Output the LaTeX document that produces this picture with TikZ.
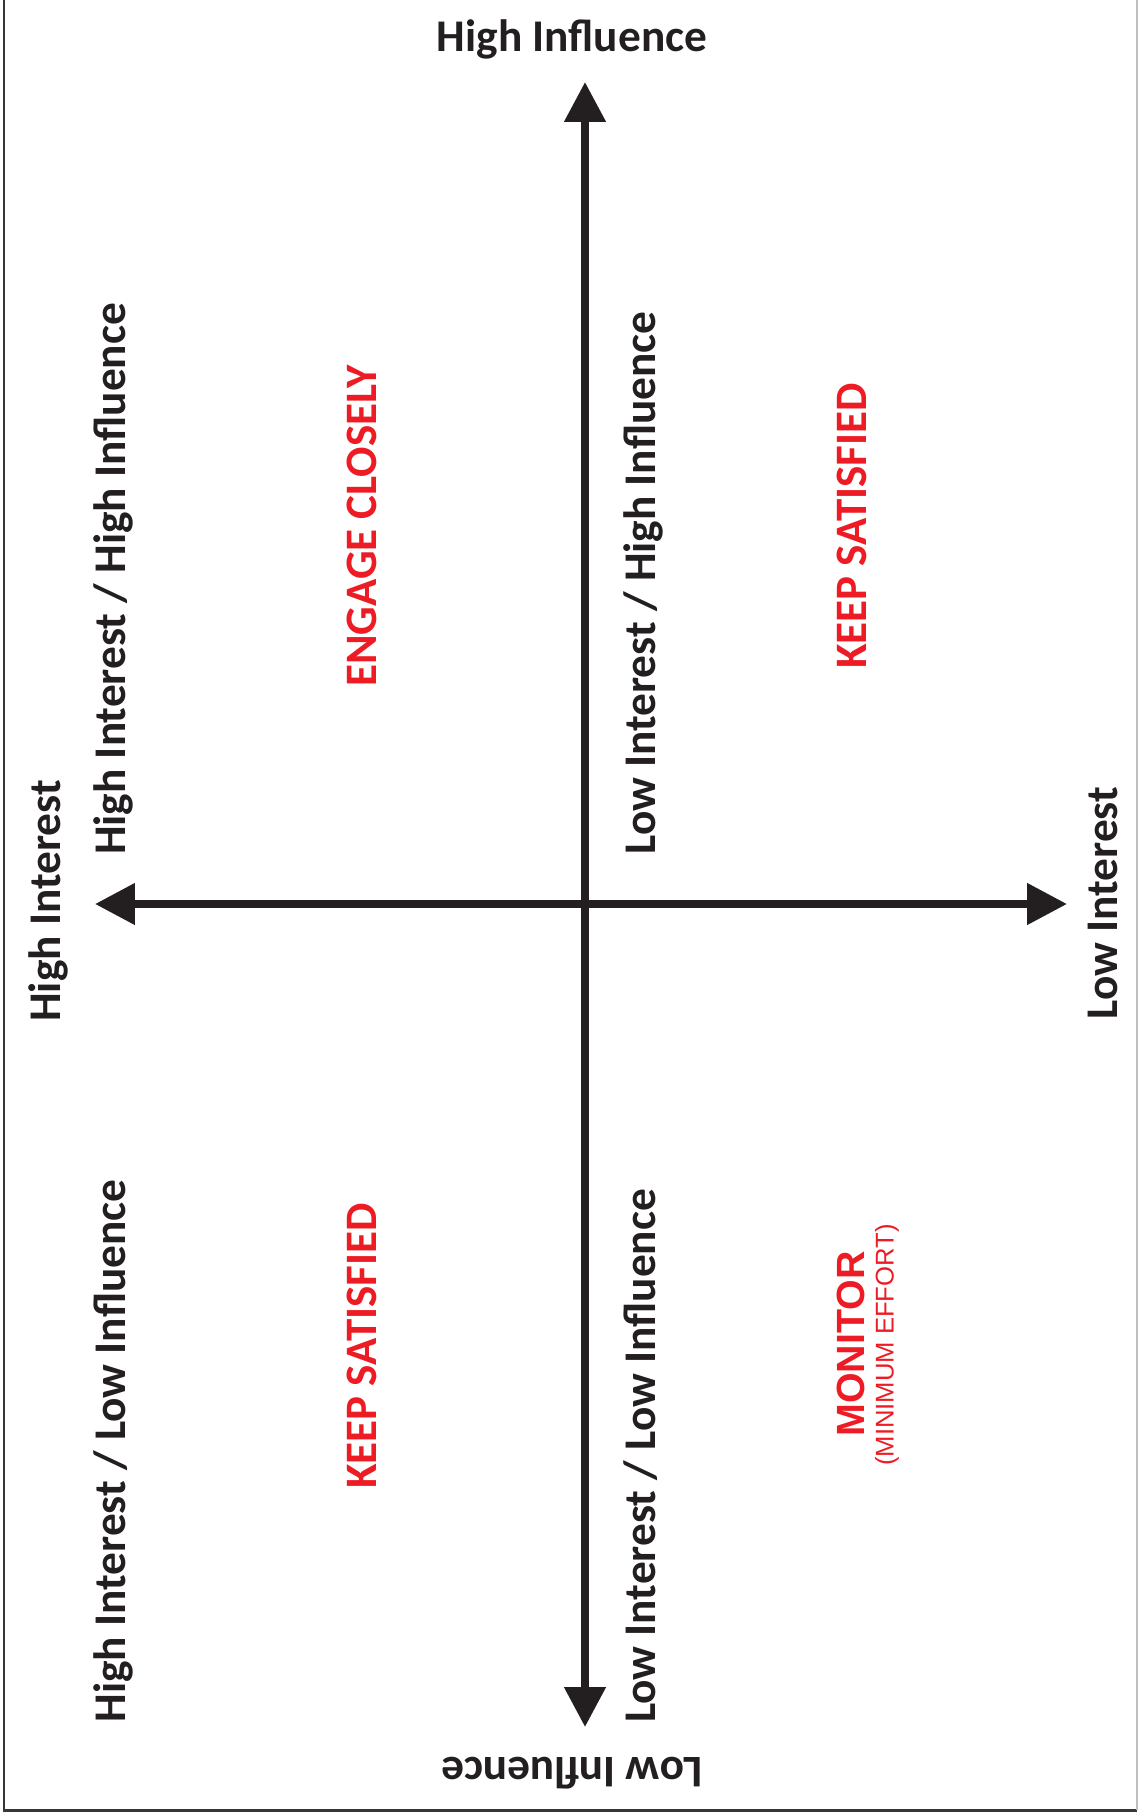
\documentclass[tikz,border=0pt]{standalone}
\usepackage{fontspec}
\setmainfont{Carlito}
\newfontfamily\arialfont{Liberation Sans}
\usetikzlibrary{arrows.meta}

\definecolor{axisblack}{HTML}{231F20}
\definecolor{quadred}{HTML}{ED1C24}

\begin{document}
\begin{tikzpicture}[x=0.02cm, y=-0.02cm,
	axis/.style={line width=4.5pt, axisblack,
		{Triangle[length=0.8cm, width=0.8cm]}-{Triangle[length=0.8cm, width=0.8cm]}},
	axislabel/.style={inner sep=0pt, axisblack, anchor=base,
		font=\fontsize{25.8}{30}\selectfont\bfseries},
	quadname/.style={inner sep=0pt, quadred, rotate=90,
		font=\fontsize{25.6}{30}\selectfont\bfseries}]
	\useasboundingbox (0, 0) rectangle (1138, 1817);

	% frame
	\draw [line width=1.7pt, axisblack!90] (4, 0) -- (4, 1810) -- (1137, 1810);
	\draw [line width=0.6pt, black!25] (1137, 0) -- (1137, 1810);

	% axes
	\coordinate (top) at (585, 82);
	\coordinate (bottom) at (585, 1727);
	\coordinate (left) at (95, 904);
	\coordinate (right) at (1067, 904);
	\draw [axis] (bottom) -- (top);
	\draw [axis] (left) -- (right);

	% axis ends
	\node [axislabel] (hinf) at (572, 52) {High Influence};
	\node [axislabel, rotate=180] (linf) at (572, 1757) {Low Influence};
	\node [axislabel, rotate=90] (hint) at (60, 901) {High Interest};
	\node [axislabel, rotate=90] (lint) at (1117, 903) {Low Interest};

	% quadrants
	\node [axislabel, rotate=90] (hihi) at (125, 579) {High Interest / High Influence};
	\node [axislabel, rotate=90] (lihi) at (655, 583) {Low Interest / High Influence};
	\node [axislabel, rotate=90] (hili) at (125, 1451) {High Interest / Low Influence};
	\node [axislabel, rotate=90] (lili) at (655, 1456) {Low Interest / Low Influence};

	\node [quadname] (engage) at (362, 526) {ENGAGE CLOSELY};
	\node [quadname] (keeptop) at (852, 526) {KEEP SATISFIED};
	\node [quadname] (keepbot) at (362, 1346) {KEEP SATISFIED};
	\node [quadname, font=\arialfont\fontsize{22.4}{26}\selectfont\bfseries] (monitor) at (851, 1344) {MONITOR};
	\node [quadname, font=\arialfont\fontsize{14.6}{17}\selectfont] (effort) at (887, 1345) {(MINIMUM EFFORT)};
\end{tikzpicture}
\end{document}
